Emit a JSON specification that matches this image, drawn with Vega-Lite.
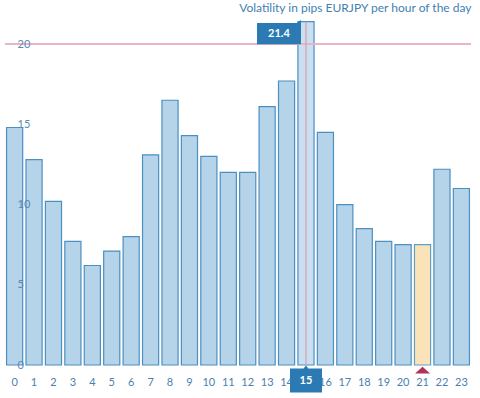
{
  "$schema": "https://vega.github.io/schema/vega-lite/v6.json",
  "width": 466,
  "height": 345,
  "autosize": {"type": "none"},
  "padding": {"left": 5, "top": 20, "right": 9, "bottom": 33},
  "background": "white",
  "config": {
    "font": "Lato",
    "view": {"stroke": null}
  },
  "title": {
    "text": "Volatility in pips EURJPY per hour of the day",
    "anchor": "end",
    "orient": "top",
    "fontSize": 12,
    "fontWeight": "normal",
    "color": "#3f7fb3",
    "offset": 5
  },
  "data": {
    "values": [
      {"hour": "0", "pips": 14.8, "kind": "normal"},
      {"hour": "1", "pips": 12.8, "kind": "normal"},
      {"hour": "2", "pips": 10.2, "kind": "normal"},
      {"hour": "3", "pips": 7.7, "kind": "normal"},
      {"hour": "4", "pips": 6.2, "kind": "normal"},
      {"hour": "5", "pips": 7.1, "kind": "normal"},
      {"hour": "6", "pips": 8.0, "kind": "normal"},
      {"hour": "7", "pips": 13.1, "kind": "normal"},
      {"hour": "8", "pips": 16.5, "kind": "normal"},
      {"hour": "9", "pips": 14.3, "kind": "normal"},
      {"hour": "10", "pips": 13.0, "kind": "normal"},
      {"hour": "11", "pips": 12.0, "kind": "normal"},
      {"hour": "12", "pips": 12.0, "kind": "normal"},
      {"hour": "13", "pips": 16.1, "kind": "normal"},
      {"hour": "14", "pips": 17.7, "kind": "normal"},
      {"hour": "15", "pips": 21.4, "kind": "hover"},
      {"hour": "16", "pips": 14.5, "kind": "normal"},
      {"hour": "17", "pips": 10.0, "kind": "normal"},
      {"hour": "18", "pips": 8.5, "kind": "normal"},
      {"hour": "19", "pips": 7.7, "kind": "normal"},
      {"hour": "20", "pips": 7.5, "kind": "normal"},
      {"hour": "21", "pips": 7.5, "kind": "current"},
      {"hour": "22", "pips": 12.2, "kind": "normal"},
      {"hour": "23", "pips": 11.0, "kind": "normal"}
    ]
  },
  "layer": [
    {
      "mark": {"type": "bar", "strokeWidth": 1.2},
      "encoding": {
        "x": {
          "field": "hour",
          "type": "ordinal",
          "sort": null,
          "scale": {"paddingInner": 0.17, "paddingOuter": 0.08},
          "axis": {
            "title": null,
            "labelAngle": 0,
            "domain": false,
            "ticks": false,
            "labelPadding": 11,
            "labelFontSize": 11,
            "labelColor": "#4a7fb0"
          }
        },
        "y": {
          "field": "pips",
          "type": "quantitative",
          "scale": {"domain": [0, 21.5], "nice": false},
          "axis": {
            "title": null,
            "values": [0, 5, 10, 15, 20],
            "grid": false,
            "domain": false,
            "ticks": false,
            "zindex": 2,
            "labelAlign": "left",
            "labelBaseline": "middle",
            "labelPadding": -12,
            "labelFontSize": 11,
            "labelColor": "#5a88b5"
          }
        },
        "fill": {
          "field": "kind",
          "type": "nominal",
          "scale": {"domain": ["normal", "hover", "current"], "range": ["#b6d4e9", "#cadff0", "#fbe3b9"]},
          "legend": null
        },
        "stroke": {
          "field": "kind",
          "type": "nominal",
          "scale": {"domain": ["normal", "hover", "current"], "range": ["#4b8fc3", "#4b8fc3", "#5fa0c8"]},
          "legend": null
        }
      }
    },
    {
      "mark": {"type": "rule", "color": "#ecb4c1", "strokeWidth": 1},
      "encoding": {"y": {"datum": 20, "type": "quantitative"}}
    },
    {
      "transform": [{"filter": "datum.kind === 'hover'"}],
      "mark": {"type": "rule", "color": "#d894a8", "strokeWidth": 1},
      "encoding": {
        "x": {"field": "hour", "type": "ordinal", "sort": null},
        "y": {"field": "pips", "type": "quantitative"},
        "y2": {"datum": 0}
      }
    },
    {
      "transform": [{"filter": "datum.kind === 'hover'"}],
      "mark": {
        "type": "point",
        "filled": true,
        "opacity": 1,
        "color": "#2c7ab3",
        "shape": "M-1,-0.48 L0.82,-0.48 L1,-0.62 L1,-0.3 L1,0.48 L-1,0.48 Z",
        "size": 1936,
        "xOffset": -27,
        "yOffset": 12
      },
      "encoding": {
        "x": {"field": "hour", "type": "ordinal", "sort": null},
        "y": {"field": "pips", "type": "quantitative"}
      }
    },
    {
      "transform": [{"filter": "datum.kind === 'hover'"}],
      "mark": {
        "type": "text",
        "color": "white",
        "fontWeight": "bold",
        "fontSize": 11,
        "xOffset": -27,
        "yOffset": 12,
        "baseline": "middle"
      },
      "encoding": {
        "x": {"field": "hour", "type": "ordinal", "sort": null},
        "y": {"field": "pips", "type": "quantitative"},
        "text": {"field": "pips", "type": "quantitative", "format": ".1f"}
      }
    },
    {
      "transform": [{"filter": "datum.kind === 'hover'"}],
      "mark": {
        "type": "point",
        "filled": true,
        "opacity": 1,
        "color": "#2c7ab3",
        "shape": "M-1,-0.72 L-0.15,-0.72 L0,-0.9 L0.15,-0.72 L1,-0.72 L1,0.78 L-1,0.78 Z",
        "size": 1024,
        "yOffset": 15
      },
      "encoding": {
        "x": {"field": "hour", "type": "ordinal", "sort": null},
        "y": {"datum": 0, "type": "quantitative"}
      }
    },
    {
      "transform": [{"filter": "datum.kind === 'hover'"}],
      "mark": {
        "type": "text",
        "color": "white",
        "fontWeight": "bold",
        "fontSize": 11,
        "yOffset": 16,
        "baseline": "middle"
      },
      "encoding": {
        "x": {"field": "hour", "type": "ordinal", "sort": null},
        "y": {"datum": 0, "type": "quantitative"},
        "text": {"field": "hour"}
      }
    },
    {
      "transform": [{"filter": "datum.kind === 'current'"}],
      "mark": {
        "type": "point",
        "filled": true,
        "opacity": 1,
        "color": "#b3325a",
        "shape": "M-1,0.45 L1,0.45 L0,-0.45 Z",
        "size": 225,
        "yOffset": 5
      },
      "encoding": {
        "x": {"field": "hour", "type": "ordinal", "sort": null},
        "y": {"datum": 0, "type": "quantitative"}
      }
    }
  ]
}
